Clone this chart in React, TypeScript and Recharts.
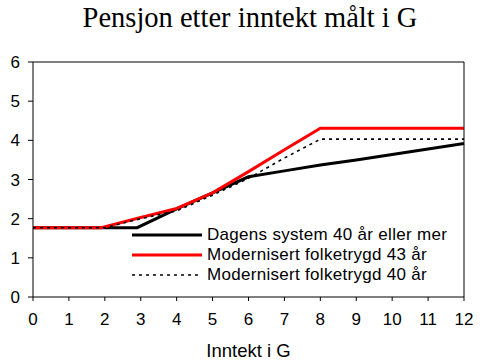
import { LineChart, Line, XAxis, YAxis, ReferenceLine, Label } from "recharts";

const title = "Pensjon etter inntekt målt i G";
const xTicks = [0, 1, 2, 3, 4, 5, 6, 7, 8, 9, 10, 11, 12];
const yTicks = [0, 1, 2, 3, 4, 5, 6];

// Dagens system 40 år eller mer
const dagensX = [0, 1, 2, 2.9, 4, 5, 6, 7, 8, 9, 10, 11, 12];
const dagensY = [1.77, 1.77, 1.77, 1.77, 2.25, 2.66, 3.07, 3.22, 3.37, 3.5, 3.64, 3.78, 3.92];

// Modernisert folketrygd 43 år
const mod43X = [0, 1, 1.9, 3, 4, 5, 6, 7, 8, 9, 10, 11, 12];
const mod43Y = [1.77, 1.77, 1.77, 2.03, 2.26, 2.66, 3.2, 3.76, 4.31, 4.31, 4.31, 4.31, 4.31];

// Modernisert folketrygd 40 år
const mod40X = [0, 1, 2, 3, 4, 5, 6, 7, 8, 9, 10, 11, 12];
const mod40Y = [1.77, 1.77, 1.77, 2.0, 2.2, 2.6, 3.03, 3.55, 4.03, 4.03, 4.03, 4.03, 4.03];

const series = [
  { name: "Dagens system 40 år eller mer", xs: dagensX, ys: dagensY, color: "#000000", width: 3, dash: undefined },
  { name: "Modernisert folketrygd 43 år", xs: mod43X, ys: mod43Y, color: "#ff0000", width: 3, dash: undefined },
  { name: "Modernisert folketrygd 40 år", xs: mod40X, ys: mod40Y, color: "#000000", width: 1.6, dash: "3 4" },
];

const FONT = "'Liberation Sans', Arial, sans-serif";

function LegendBox() {
  return (
    <div
      style={{
        position: "absolute",
        left: 132,
        top: 225,
        fontFamily: FONT,
        fontSize: 17,
        letterSpacing: 0.3,
        color: "#000",
      }}
    >
      {series.map((s) => (
        <div key={s.name} style={{ display: "flex", alignItems: "center", height: 20 }}>
          <svg width={75} height={10}>
            <line x1={0} y1={5} x2={70} y2={5} stroke={s.color} strokeWidth={s.width} strokeDasharray={s.dash} />
          </svg>
          <span style={{ whiteSpace: "nowrap" }}>{s.name}</span>
        </div>
      ))}
    </div>
  );
}

export default function App() {
  return (
    <div style={{ position: "absolute", left: 0, top: 0, width: 500, height: 364, background: "#fff" }}>
      <div
        style={{
          position: "absolute",
          left: 0,
          top: 1,
          width: 500,
          textAlign: "center",
          fontFamily: "'Liberation Serif', 'Times New Roman', serif",
          fontSize: 28.5,
          lineHeight: "34px",
          color: "#000",
        }}
      >
        {title}
      </div>
      <LineChart width={500} height={364} margin={{ top: 62, right: 0, bottom: 0, left: 0 }}>
        <XAxis
          type="number"
          dataKey="x"
          domain={[0, 12]}
          ticks={xTicks}
          interval={0}
          height={67}
          stroke="#000"
          tickSize={4}
          tickMargin={12}
          tick={{ fill: "#000", fontSize: 17, fontFamily: FONT }}
        >
          <Label
            value="Inntekt i G"
            position="insideBottom"
            offset={7}
            style={{ fill: "#000", fontSize: 18.5, fontFamily: FONT }}
          />
        </XAxis>
        <YAxis
          yAxisId="left"
          orientation="left"
          domain={[0, 6]}
          ticks={yTicks}
          interval={0}
          width={33}
          stroke="#000"
          tickSize={5}
          tickMargin={8}
          tick={{ fill: "#000", fontSize: 17, fontFamily: FONT }}
        />
        <YAxis
          yAxisId="right"
          orientation="right"
          domain={[0, 6]}
          ticks={yTicks}
          interval={0}
          width={36}
          stroke="#000"
          tickSize={5}
          tickMargin={9}
          tick={{ fill: "#000", fontSize: 17, fontFamily: FONT }}
        />
        <ReferenceLine yAxisId="left" y={6} stroke="#000" strokeWidth={1} />
        {series.map((s) => (
          <Line
            key={s.name}
            yAxisId="left"
            data={s.xs.map((x, i) => ({ x, y: s.ys[i] }))}
            dataKey="y"
            name={s.name}
            type="linear"
            stroke={s.color}
            strokeWidth={s.width}
            strokeDasharray={s.dash}
            dot={false}
            activeDot={false}
            isAnimationActive={false}
          />
        ))}
      </LineChart>
      <LegendBox />
    </div>
  );
}
